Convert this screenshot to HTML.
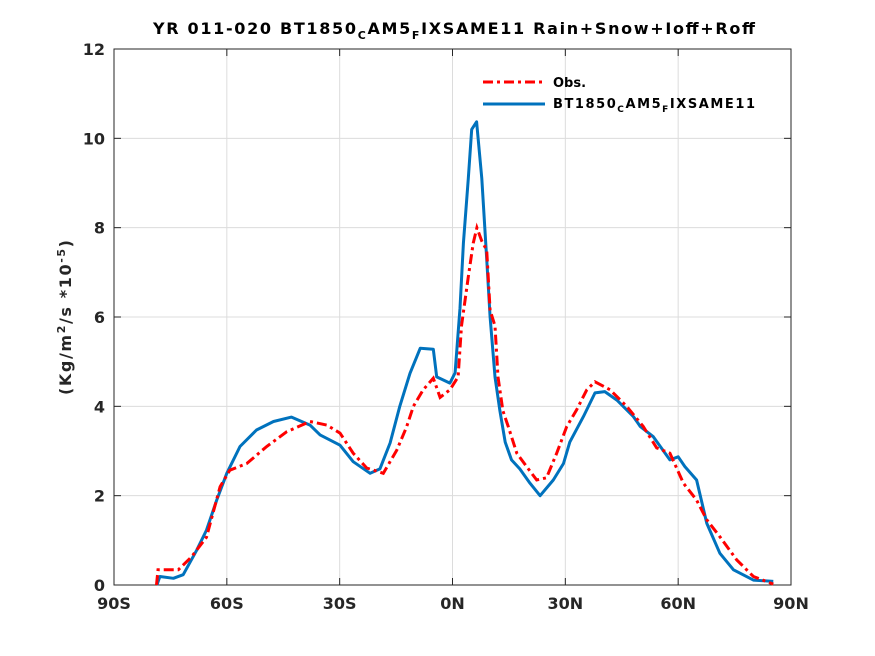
<!DOCTYPE html>
<html><head><meta charset="utf-8"><style>
body{margin:0;background:#fff;}
svg{display:block;font-family:"DejaVu Sans","Liberation Sans",sans-serif;}
</style></head><body>
<svg id="chart" width="875" height="656" viewBox="0 0 875 656">
<rect width="875" height="656" fill="#fff"/>
<text x="153" y="34" textLength="602" lengthAdjust="spacing" font-size="16" font-weight="bold" fill="#000">YR 011-020 BT1850<tspan font-size="11" dy="5">C</tspan><tspan dy="-5">AM5</tspan><tspan font-size="11" dy="5">F</tspan><tspan dy="-5">IXSAME11  Rain+Snow+Ioff+Roff</tspan></text>
<g id="grid"></g>
<g id="axes"></g>
<g id="series"></g>
<text transform="translate(71,395) rotate(-90)" textLength="155" lengthAdjust="spacing" font-size="16" font-weight="bold" fill="#262626">(Kg/m<tspan font-size="11" dy="-6">2</tspan><tspan dy="6">/s *10</tspan><tspan font-size="11" dy="-6">-5</tspan><tspan dy="6">)</tspan></text>
<g>
<line x1="483" y1="82" x2="545" y2="82" stroke="#ff0000" stroke-width="3" stroke-dasharray="10,4,3,4"/>
<text x="553" y="87" font-size="13" font-weight="bold">Obs.</text>
<line x1="483" y1="104" x2="545" y2="104" stroke="#0072bd" stroke-width="3"/>
<text x="553" y="108" textLength="202" lengthAdjust="spacing" font-size="13" font-weight="bold">BT1850<tspan font-size="9" dy="4">C</tspan><tspan dy="-4">AM5</tspan><tspan font-size="9" dy="4">F</tspan><tspan dy="-4">IXSAME11</tspan></text>
</g>
</svg>
<script>
const xTicks=[-90,-60,-30,0,30,60,90];
const xTickLabels=["90S","60S","30S","0N","30N","60N","90N"];
const yTicks=[0,2,4,6,8,10,12];
const obsLat=[-78.7,-78.3,-72.9,-69.4,-65.4,-61.8,-59.2,-54.7,-49.4,-44.1,-37.9,-33.4,-29.9,-26.4,-22.8,-18.4,-14.8,-12.2,-10.4,-7.8,-5.1,-3.3,-0.7,1.5,2.4,4.2,5.5,6.5,7.8,9.1,10.0,11.3,12.1,13.4,14.8,17.1,19.7,22.4,25.0,27.7,30.4,33.0,35.7,37.9,41.9,46.3,50.7,54.3,57.8,61.4,64.9,67.6,71.1,75.6,80.0,85.3];
const obsVal=[0,0.34,0.34,0.63,1.07,2.2,2.57,2.72,3.1,3.43,3.66,3.58,3.4,2.95,2.62,2.5,3.02,3.54,4.0,4.37,4.63,4.2,4.37,4.66,5.8,6.9,7.65,8.0,7.7,7.5,6.15,5.8,4.66,3.9,3.55,2.95,2.65,2.35,2.4,2.95,3.55,3.92,4.37,4.55,4.37,4.0,3.55,3.07,2.95,2.28,1.9,1.46,1.08,0.56,0.19,0.02];
const modLat=[-78.6,-77.8,-74.2,-71.6,-68,-65.4,-62.7,-60,-56.5,-52.1,-47.6,-42.8,-37.9,-35.2,-29.9,-26.4,-21.9,-19.3,-16.6,-14.0,-11.3,-8.6,-5.1,-4.2,-0.7,0.7,2.0,2.9,4.2,5.1,6.4,7.8,9.1,10.0,11.3,12.6,14.0,15.7,17.9,20.6,23.3,26.8,29.5,31.2,34.8,37.9,40.5,43.7,48.1,49.9,53.4,57.8,60.0,61.8,64.9,67.6,71.1,74.7,80.0,85.3];
const modVal=[0,0.19,0.15,0.23,0.78,1.23,1.9,2.5,3.1,3.47,3.66,3.76,3.58,3.36,3.13,2.76,2.5,2.6,3.18,4.0,4.74,5.3,5.28,4.66,4.52,4.75,6.2,7.65,9.1,10.2,10.37,9.1,7.3,6.0,4.66,3.9,3.2,2.8,2.6,2.28,2.0,2.35,2.72,3.2,3.77,4.3,4.33,4.14,3.77,3.55,3.32,2.8,2.87,2.65,2.35,1.38,0.71,0.34,0.11,0.08];
const L=114,R=791,T=49,B=585;
const sx=v=>L+(v+90)/180*(R-L);
const sy=v=>B-v/12*(B-T);
const NS="http://www.w3.org/2000/svg";
function mk(tag,attrs,parent){const e=document.createElementNS(NS,tag);for(const k in attrs)e.setAttribute(k,attrs[k]);parent.appendChild(e);return e;}
const grid=document.getElementById('grid'),axes=document.getElementById('axes'),series=document.getElementById('series');
xTicks.forEach((t,i)=>{
 const g=mk('line',{x1:sx(t),x2:sx(t),y1:T,y2:B,stroke:'#dcdcdc','stroke-width':1},grid);
 
 
 mk('line',{x1:sx(t),x2:sx(t),y1:B,y2:B-7,stroke:'#262626','stroke-width':1},axes);
 mk('line',{x1:sx(t),x2:sx(t),y1:T,y2:T+7,stroke:'#262626','stroke-width':1},axes);
 const tx=mk('text',{x:sx(t),y:B+24,'text-anchor':'middle','font-size':16,'font-weight':'bold',fill:'#262626'},axes);
 tx.textContent=xTickLabels[i];
 
 
});
yTicks.forEach(t=>{
 const g=mk('line',{x1:L,x2:R,y1:sy(t),y2:sy(t),stroke:'#dcdcdc','stroke-width':1},grid);
 
 
 mk('line',{x1:L,x2:L+7,y1:sy(t),y2:sy(t),stroke:'#262626','stroke-width':1},axes);
 mk('line',{x1:R,x2:R-7,y1:sy(t),y2:sy(t),stroke:'#262626','stroke-width':1},axes);
 const tx=mk('text',{x:L-9,y:sy(t)+6,'text-anchor':'end','font-size':16,'font-weight':'bold',fill:'#262626'},axes);
 tx.textContent=String(t);
 
 
});
mk('rect',{x:L,y:T,width:R-L,height:B-T,fill:'none',stroke:'#262626','stroke-width':1},axes);
function path(lat,val){return lat.map((x,i)=>(i?'L':'M')+sx(x).toFixed(1)+','+sy(val[i]).toFixed(1)).join('');}
const pm=mk('path',{d:path(modLat,modVal),fill:'none',stroke:'#0072bd','stroke-width':3,'stroke-linejoin':'round'},series);


const po=mk('path',{d:path(obsLat,obsVal),fill:'none',stroke:'#ff0000','stroke-width':3,'stroke-dasharray':'10,4,3,4'},series);


</script>
</body></html>
